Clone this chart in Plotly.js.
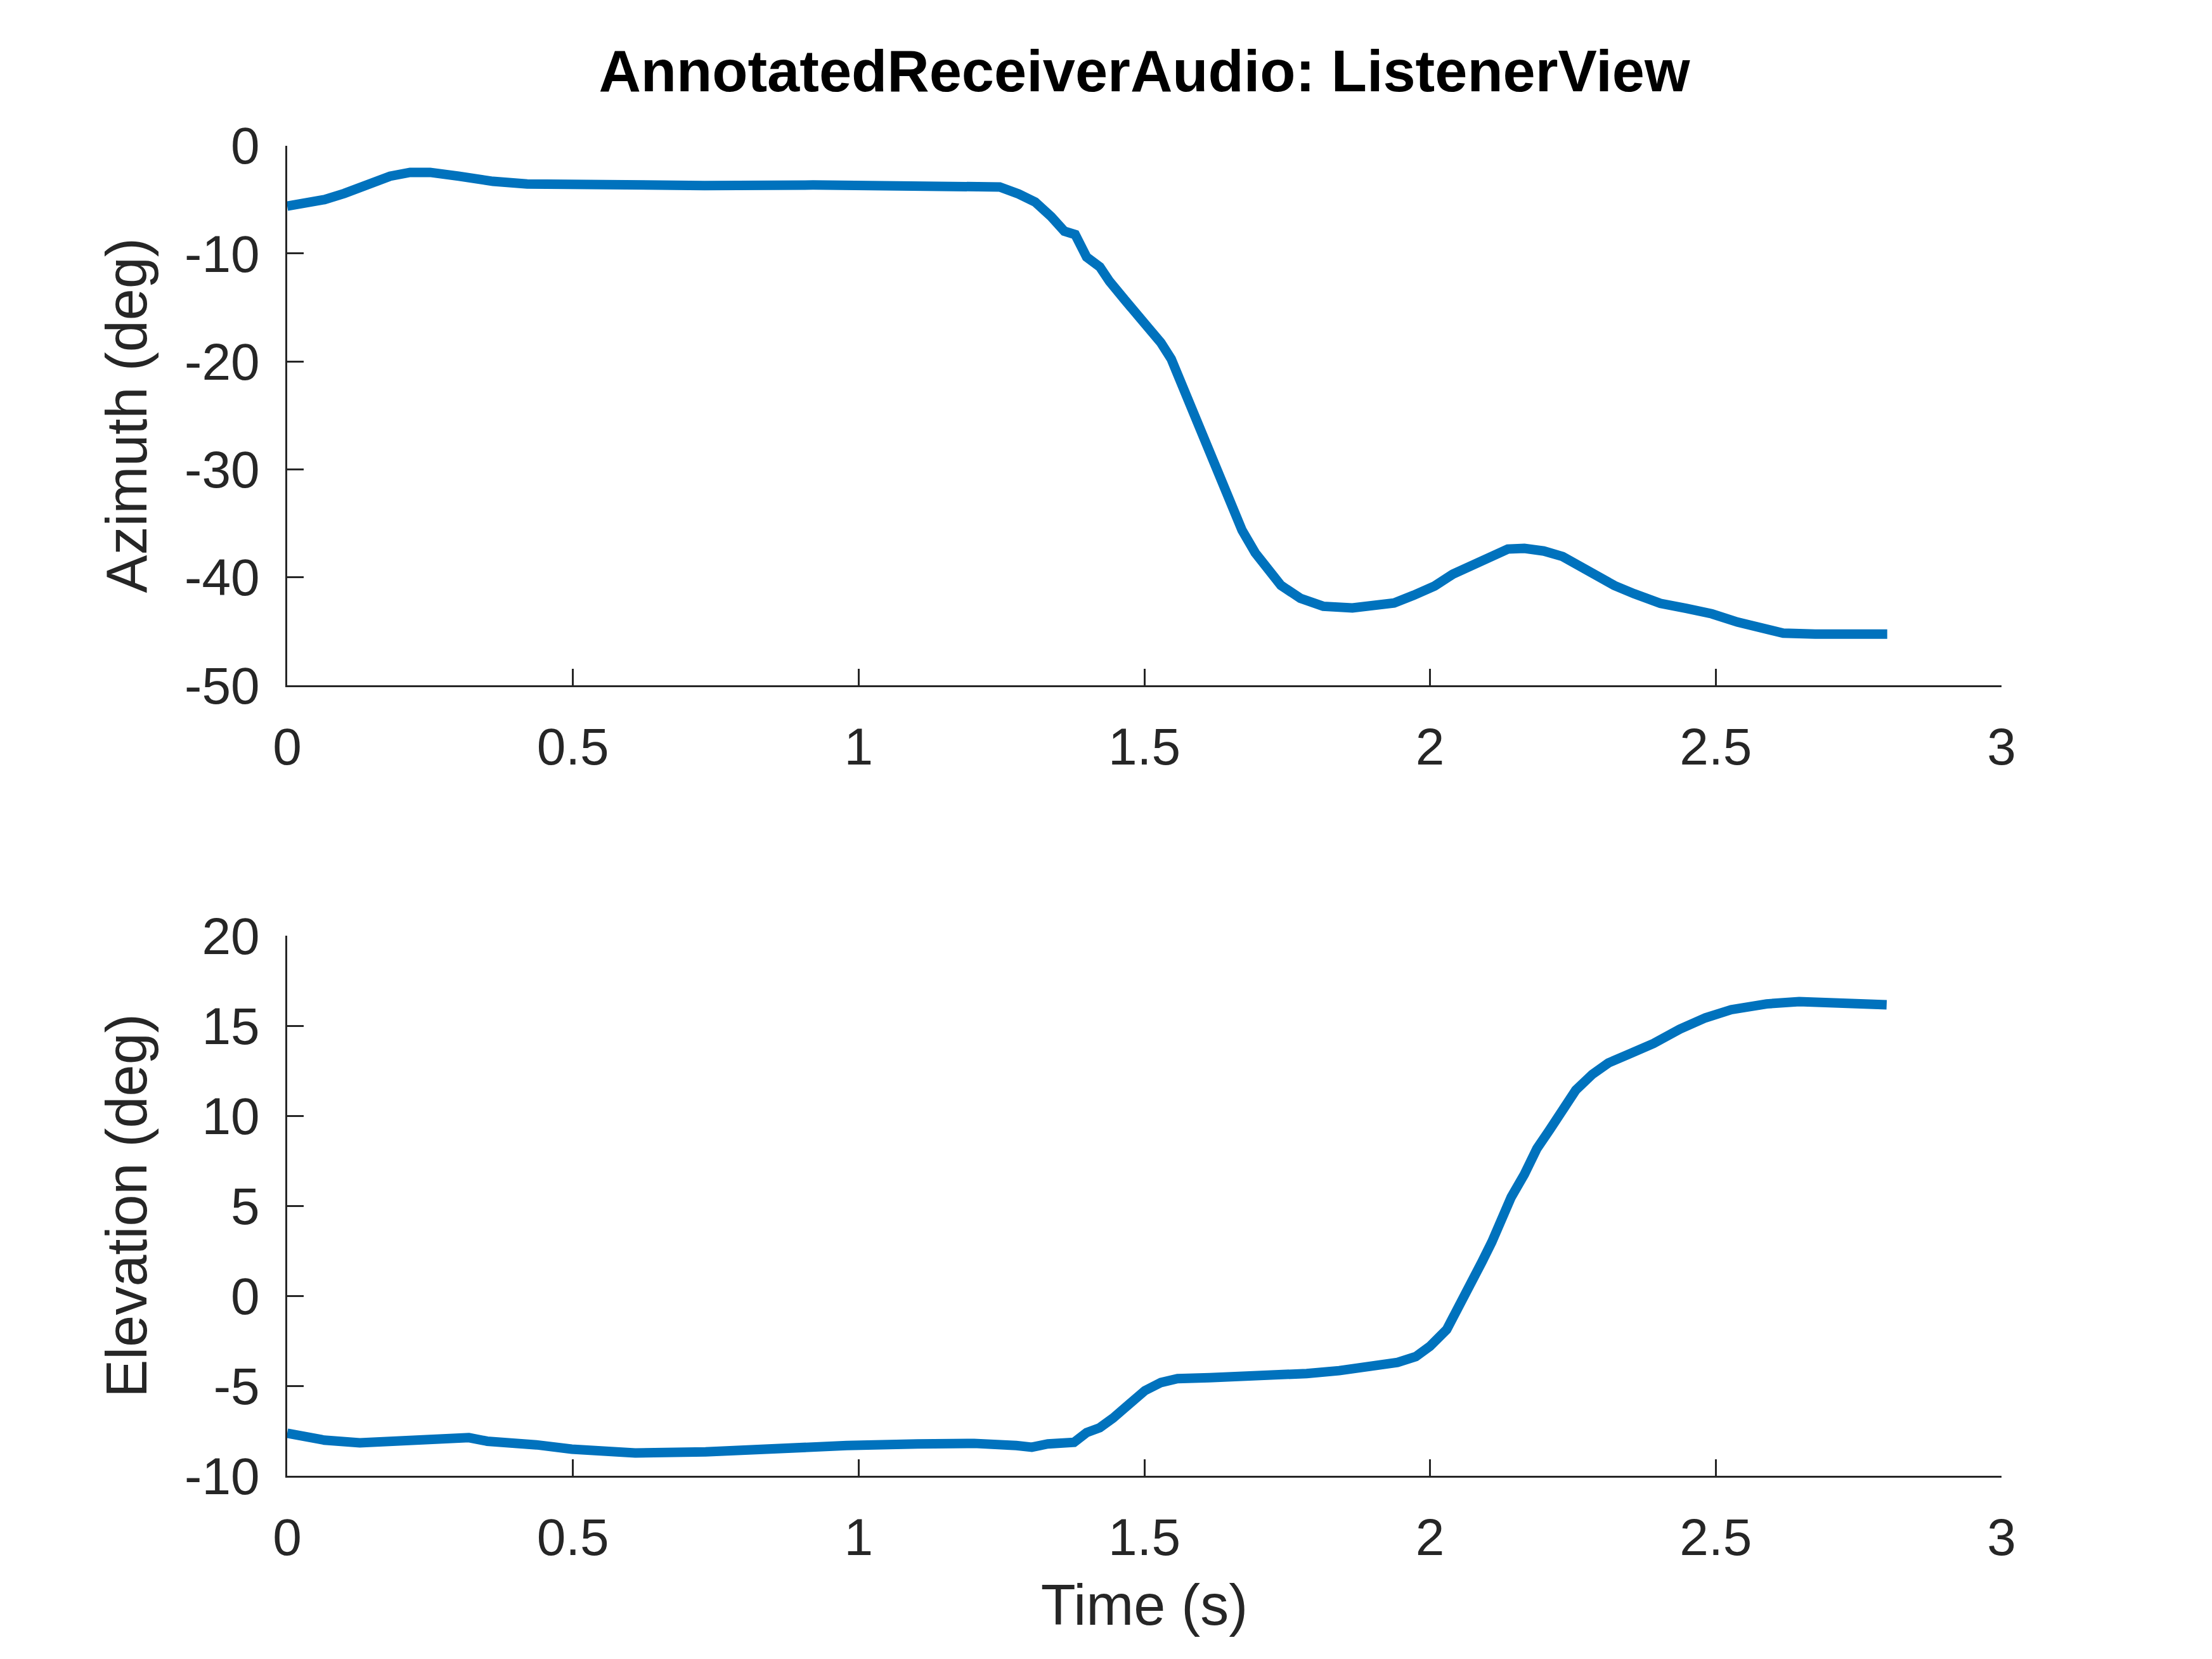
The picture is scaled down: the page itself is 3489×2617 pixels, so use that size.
<!DOCTYPE html>
<html>
<head>
<meta charset="utf-8">
<script src="https://cdn.plot.ly/plotly-3.0.1.min.js"></script>
<style>html,body{margin:0;padding:0;background:#fff;}#plot{width:3489px;height:2617px;}</style>
</head>
<body>
<div id="plot"></div>
<script>
const azTime = [0, 0.04, 0.065, 0.10, 0.14, 0.18, 0.215, 0.25, 0.30, 0.36, 0.42, 0.55, 0.73, 0.92, 1.04, 1.16, 1.247, 1.28, 1.309, 1.337, 1.36, 1.379, 1.388, 1.399, 1.422, 1.439, 1.467, 1.501, 1.529, 1.547, 1.561, 1.575, 1.592, 1.609, 1.62, 1.637, 1.654, 1.671, 1.694, 1.716, 1.739, 1.773, 1.813, 1.864, 1.909, 1.937, 1.971, 2.008, 2.040, 2.074, 2.108, 2.136, 2.165, 2.199, 2.232, 2.261, 2.289, 2.323, 2.357, 2.403, 2.448, 2.493, 2.538, 2.584, 2.618, 2.674, 2.74, 2.80];
const azimuth = [-5.6, -5.26, -5.0, -4.43, -3.55, -2.83, -2.48, -2.48, -2.83, -3.31, -3.55, -3.65, -3.7, -3.65, -3.77, -3.8, -3.83, -4.48, -5.23, -6.58, -7.93, -8.24, -9.28, -10.33, -11.23, -12.58, -14.37, -16.46, -18.27, -19.76, -21.57, -23.66, -25.45, -27.56, -29.36, -31.75, -33.85, -35.64, -37.73, -39.24, -40.74, -41.94, -42.68, -42.83, -42.68, -42.38, -41.66, -40.8, -39.7, -38.82, -37.92, -37.38, -37.32, -37.56, -38.07, -38.97, -39.87, -40.77, -41.52, -42.41, -42.87, -43.38, -44.15, -44.81, -45.17, -45.26, -45.26, -45.26];

const elTime = [0, 0.028, 0.065, 0.127, 0.189, 0.251, 0.306, 0.318, 0.35, 0.387, 0.436, 0.498, 0.56, 0.609, 0.732, 0.856, 0.979, 1.103, 1.202, 1.276, 1.303, 1.331, 1.377, 1.399, 1.422, 1.445, 1.473, 1.501, 1.529, 1.558, 1.614, 1.671, 1.728, 1.784, 1.841, 1.898, 1.943, 1.975, 2.000, 2.029, 2.051, 2.074, 2.091, 2.108, 2.125, 2.142, 2.165, 2.187, 2.21, 2.233, 2.255, 2.284, 2.312, 2.346, 2.391, 2.437, 2.482, 2.527, 2.589, 2.646, 2.731, 2.799];
const elevation = [-7.64, -7.84, -8.02, -8.17, -8.08, -7.99, -7.93, -7.88, -8.08, -8.14, -8.28, -8.52, -8.67, -8.73, -8.67, -8.43, -8.32, -8.23, -8.2, -8.32, -8.41, -8.23, -8.14, -7.60, -7.33, -6.80, -6.07, -5.27, -4.82, -4.60, -4.55, -4.50, -4.37, -4.32, -4.16, -3.96, -3.7, -3.38, -2.8, -1.88, -0.61, 0.64, 1.89, 2.98, 4.22, 5.48, 6.74, 8.18, 9.25, 10.33, 11.42, 12.3, 12.93, 13.39, 14.01, 14.81, 15.44, 15.89, 16.21, 16.34, 16.21, 16.16];

const xTickVals = [0, 0.5, 1, 1.5, 2, 2.5, 3];
const xTickText = ['0', '0.5', '1', '1.5', '2', '2.5', '3'];
const azTickVals = [-50, -40, -30, -20, -10, 0];
const elTickVals = [-10, -5, 0, 5, 10, 15, 20];

const chartTitle = 'AnnotatedReceiverAudio: ListenerView';
const azLabel = 'Azimuth (deg)';
const elLabel = 'Elevation (deg)';
const timeLabel = 'Time (s)';

const lineColor = '#0072BD';
const axColor = '#262626';
const FONT = '"Liberation Sans", Arial, Helvetica, sans-serif';

const traces = [
  {x: azTime, y: azimuth, type: 'scatter', mode: 'lines', xaxis: 'x', yaxis: 'y',
   line: {color: lineColor, width: 15}, showlegend: false, hoverinfo: 'skip'},
  {x: elTime, y: elevation, type: 'scatter', mode: 'lines', xaxis: 'x2', yaxis: 'y2',
   line: {color: lineColor, width: 15}, showlegend: false, hoverinfo: 'skip'}
];

function xAxis(anchor, title) {
  const a = {
    domain: [453/3489, 3157/3489], anchor: anchor, range: [0, 3],
    tickmode: 'array', tickvals: xTickVals, ticktext: xTickText,
    ticks: 'inside', ticklen: 26, tickwidth: 3, tickcolor: axColor,
    showline: true, linecolor: axColor, linewidth: 3, mirror: false,
    showgrid: false, zeroline: false, fixedrange: true,
    tickfont: {family: FONT, size: 82, color: axColor},
    ticklabelstandoff: 24
  };
  if (title) a.title = {text: title, font: {family: FONT, size: 90, color: axColor}, standoff: 31};
  return a;
}
function yAxis(domain, anchor, range, vals, title) {
  return {
    domain: domain, anchor: anchor, range: range,
    tickmode: 'array', tickvals: vals, ticktext: vals.map(String),
    ticks: 'inside', ticklen: 26, tickwidth: 3, tickcolor: axColor,
    showline: true, linecolor: axColor, linewidth: 3, mirror: false,
    showgrid: false, zeroline: false, fixedrange: true,
    tickfont: {family: FONT, size: 82, color: axColor},
    ticklabelstandoff: 24,
    title: {text: title, font: {family: FONT, size: 90, color: axColor}, standoff: 30}
  };
}

const H = 2617;
const layout = {
  width: 3489, height: 2617,
  margin: {l: 0, r: 0, t: 0, b: 0, pad: 0},
  paper_bgcolor: '#ffffff', plot_bgcolor: '#ffffff',
  title: {text: '<b>' + chartTitle + '</b>', x: (453 + 3157) / 2 / 3489, xanchor: 'center',
          y: 1 - 112 / H, yanchor: 'middle', yref: 'paper',
          font: {family: FONT, size: 92, color: '#000000'}},
  xaxis: xAxis('y', null),
  yaxis: yAxis([(H - 1081) / H, (H - 229.7) / H], 'x', [-50, 0], azTickVals, azLabel),
  xaxis2: xAxis('y2', timeLabel),
  yaxis2: yAxis([(H - 2328) / H, (H - 1476) / H], 'x2', [-10, 20], elTickVals, elLabel),
  showlegend: false
};

Plotly.newPlot('plot', traces, layout, {staticPlot: true, displayModeBar: false});
</script>
</body>
</html>
